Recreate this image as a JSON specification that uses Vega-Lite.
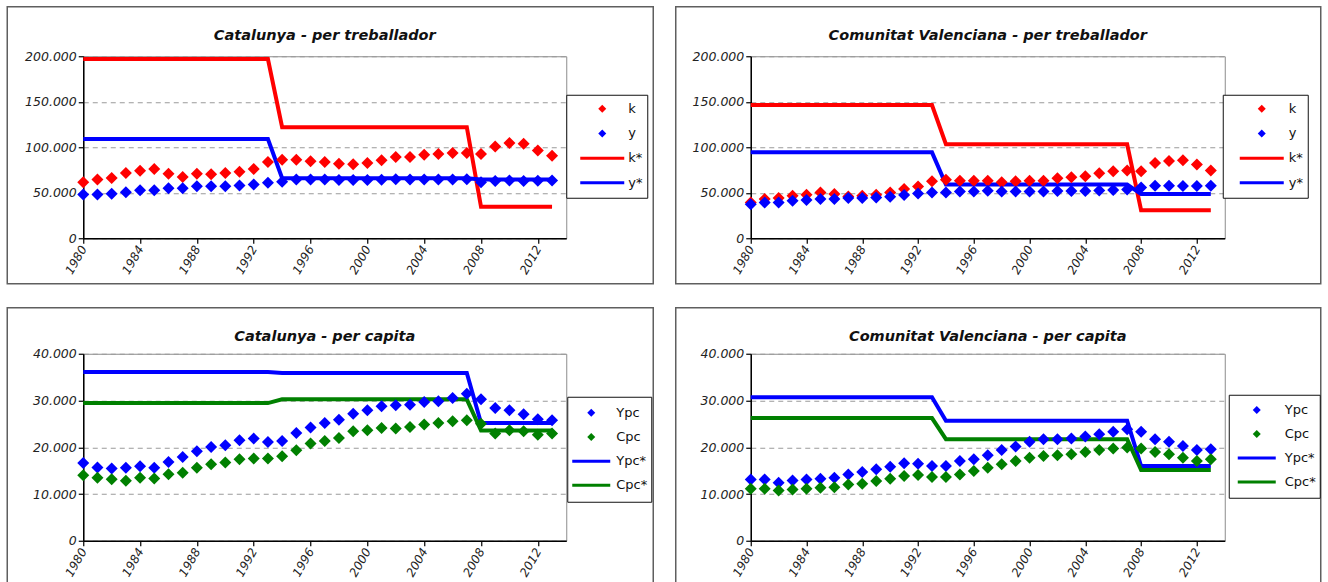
{
  "$schema": "https://vega.github.io/schema/vega-lite/v6.json",
  "background": "#ffffff",
  "padding": {"left": 5.25, "top": 5.25, "right": 0, "bottom": -12},
  "datasets": {
    "cat_treb": [
      {"year": 1980, "k": 61500, "y": 48100, "k*": 197000, "y*": 109000},
      {"year": 1981, "k": 64500, "y": 48100, "k*": 197000, "y*": 109000},
      {"year": 1982, "k": 66300, "y": 48800, "k*": 197000, "y*": 109000},
      {"year": 1983, "k": 71800, "y": 50600, "k*": 197000, "y*": 109000},
      {"year": 1984, "k": 74300, "y": 52800, "k*": 197000, "y*": 109000},
      {"year": 1985, "k": 76200, "y": 52800, "k*": 197000, "y*": 109000},
      {"year": 1986, "k": 71000, "y": 55000, "k*": 197000, "y*": 109000},
      {"year": 1987, "k": 67400, "y": 55000, "k*": 197000, "y*": 109000},
      {"year": 1988, "k": 71000, "y": 57200, "k*": 197000, "y*": 109000},
      {"year": 1989, "k": 70300, "y": 57200, "k*": 197000, "y*": 109000},
      {"year": 1990, "k": 71800, "y": 57200, "k*": 197000, "y*": 109000},
      {"year": 1991, "k": 73200, "y": 57900, "k*": 197000, "y*": 109000},
      {"year": 1992, "k": 76200, "y": 59000, "k*": 197000, "y*": 109000},
      {"year": 1993, "k": 83800, "y": 60900, "k*": 197000, "y*": 109000},
      {"year": 1994, "k": 86300, "y": 62000, "k*": 122000, "y*": 66000},
      {"year": 1995, "k": 86300, "y": 64500, "k*": 122000, "y*": 66000},
      {"year": 1996, "k": 84500, "y": 64500, "k*": 122000, "y*": 66000},
      {"year": 1997, "k": 83800, "y": 64500, "k*": 122000, "y*": 66000},
      {"year": 1998, "k": 82000, "y": 64000, "k*": 122000, "y*": 66000},
      {"year": 1999, "k": 81200, "y": 64000, "k*": 122000, "y*": 66000},
      {"year": 2000, "k": 82700, "y": 64000, "k*": 122000, "y*": 66000},
      {"year": 2001, "k": 85600, "y": 64300, "k*": 122000, "y*": 66000},
      {"year": 2002, "k": 89300, "y": 64800, "k*": 122000, "y*": 66000},
      {"year": 2003, "k": 89300, "y": 64500, "k*": 122000, "y*": 66000},
      {"year": 2004, "k": 91800, "y": 64500, "k*": 122000, "y*": 66000},
      {"year": 2005, "k": 92600, "y": 64500, "k*": 122000, "y*": 66000},
      {"year": 2006, "k": 93700, "y": 64500, "k*": 122000, "y*": 66000},
      {"year": 2007, "k": 93700, "y": 64800, "k*": 122000, "y*": 66000},
      {"year": 2008, "k": 92600, "y": 61500, "k*": 34500, "y*": 64500},
      {"year": 2009, "k": 100900, "y": 63000, "k*": 34500, "y*": 64500},
      {"year": 2010, "k": 104600, "y": 63500, "k*": 34500, "y*": 64500},
      {"year": 2011, "k": 103800, "y": 63000, "k*": 34500, "y*": 64500},
      {"year": 2012, "k": 96500, "y": 63200, "k*": 34500, "y*": 64500},
      {"year": 2013, "k": 90700, "y": 63500, "k*": 34500, "y*": 64500}
    ],
    "val_treb": [
      {"year": 1980, "k": 39200, "y": 37400, "k*": 146300, "y*": 94400},
      {"year": 1981, "k": 43000, "y": 39200, "k*": 146300, "y*": 94400},
      {"year": 1982, "k": 44100, "y": 39200, "k*": 146300, "y*": 94400},
      {"year": 1983, "k": 46700, "y": 41100, "k*": 146300, "y*": 94400},
      {"year": 1984, "k": 47800, "y": 41900, "k*": 146300, "y*": 94400},
      {"year": 1985, "k": 50400, "y": 43000, "k*": 146300, "y*": 94400},
      {"year": 1986, "k": 48500, "y": 43000, "k*": 146300, "y*": 94400},
      {"year": 1987, "k": 45900, "y": 44100, "k*": 146300, "y*": 94400},
      {"year": 1988, "k": 46700, "y": 44100, "k*": 146300, "y*": 94400},
      {"year": 1989, "k": 47800, "y": 44800, "k*": 146300, "y*": 94400},
      {"year": 1990, "k": 50400, "y": 45600, "k*": 146300, "y*": 94400},
      {"year": 1991, "k": 54100, "y": 47400, "k*": 146300, "y*": 94400},
      {"year": 1992, "k": 57000, "y": 49300, "k*": 146300, "y*": 94400},
      {"year": 1993, "k": 62600, "y": 50400, "k*": 146300, "y*": 94400},
      {"year": 1994, "k": 64400, "y": 50400, "k*": 103300, "y*": 59000},
      {"year": 1995, "k": 63300, "y": 51500, "k*": 103300, "y*": 59000},
      {"year": 1996, "k": 63300, "y": 51500, "k*": 103300, "y*": 59000},
      {"year": 1997, "k": 63300, "y": 52200, "k*": 103300, "y*": 59000},
      {"year": 1998, "k": 61500, "y": 51500, "k*": 103300, "y*": 59000},
      {"year": 1999, "k": 62600, "y": 51500, "k*": 103300, "y*": 59000},
      {"year": 2000, "k": 63300, "y": 51500, "k*": 103300, "y*": 59000},
      {"year": 2001, "k": 63300, "y": 51500, "k*": 103300, "y*": 59000},
      {"year": 2002, "k": 65900, "y": 52000, "k*": 103300, "y*": 59000},
      {"year": 2003, "k": 67000, "y": 52000, "k*": 103300, "y*": 59000},
      {"year": 2004, "k": 68100, "y": 52000, "k*": 103300, "y*": 59000},
      {"year": 2005, "k": 71500, "y": 52500, "k*": 103300, "y*": 59000},
      {"year": 2006, "k": 73700, "y": 53000, "k*": 103300, "y*": 59000},
      {"year": 2007, "k": 74400, "y": 53700, "k*": 103300, "y*": 59000},
      {"year": 2008, "k": 73700, "y": 55900, "k*": 30800, "y*": 48500},
      {"year": 2009, "k": 82600, "y": 57800, "k*": 30800, "y*": 48500},
      {"year": 2010, "k": 84800, "y": 57800, "k*": 30800, "y*": 48500},
      {"year": 2011, "k": 85600, "y": 57500, "k*": 30800, "y*": 48500},
      {"year": 2012, "k": 81100, "y": 57500, "k*": 30800, "y*": 48500},
      {"year": 2013, "k": 74400, "y": 57800, "k*": 30800, "y*": 48500}
    ],
    "cat_cap": [
      {"year": 1980, "Ypc": 16650, "Cpc": 14020, "Ypc*": 36100, "Cpc*": 29450},
      {"year": 1981, "Ypc": 15660, "Cpc": 13450, "Ypc*": 36100, "Cpc*": 29450},
      {"year": 1982, "Ypc": 15440, "Cpc": 13170, "Ypc*": 36100, "Cpc*": 29450},
      {"year": 1983, "Ypc": 15590, "Cpc": 12810, "Ypc*": 36100, "Cpc*": 29450},
      {"year": 1984, "Ypc": 15940, "Cpc": 13450, "Ypc*": 36100, "Cpc*": 29450},
      {"year": 1985, "Ypc": 15590, "Cpc": 13310, "Ypc*": 36100, "Cpc*": 29450},
      {"year": 1986, "Ypc": 16870, "Cpc": 14230, "Ypc*": 36100, "Cpc*": 29450},
      {"year": 1987, "Ypc": 17940, "Cpc": 14520, "Ypc*": 36100, "Cpc*": 29450},
      {"year": 1988, "Ypc": 19150, "Cpc": 15590, "Ypc*": 36100, "Cpc*": 29450},
      {"year": 1989, "Ypc": 20070, "Cpc": 16370, "Ypc*": 36100, "Cpc*": 29450},
      {"year": 1990, "Ypc": 20430, "Cpc": 16730, "Ypc*": 36100, "Cpc*": 29450},
      {"year": 1991, "Ypc": 21490, "Cpc": 17440, "Ypc*": 36100, "Cpc*": 29450},
      {"year": 1992, "Ypc": 21850, "Cpc": 17580, "Ypc*": 36100, "Cpc*": 29450},
      {"year": 1993, "Ypc": 21140, "Cpc": 17580, "Ypc*": 36100, "Cpc*": 29450},
      {"year": 1994, "Ypc": 21350, "Cpc": 18080, "Ypc*": 35900, "Cpc*": 30250},
      {"year": 1995, "Ypc": 23060, "Cpc": 19360, "Ypc*": 35900, "Cpc*": 30250},
      {"year": 1996, "Ypc": 24200, "Cpc": 20780, "Ypc*": 35900, "Cpc*": 30250},
      {"year": 1997, "Ypc": 25200, "Cpc": 21350, "Ypc*": 35900, "Cpc*": 30250},
      {"year": 1998, "Ypc": 25900, "Cpc": 21990, "Ypc*": 35900, "Cpc*": 30250},
      {"year": 1999, "Ypc": 27190, "Cpc": 23420, "Ypc*": 35900, "Cpc*": 30250},
      {"year": 2000, "Ypc": 27900, "Cpc": 23630, "Ypc*": 35900, "Cpc*": 30250},
      {"year": 2001, "Ypc": 28750, "Cpc": 24130, "Ypc*": 35900, "Cpc*": 30250},
      {"year": 2002, "Ypc": 28970, "Cpc": 23990, "Ypc*": 35900, "Cpc*": 30250},
      {"year": 2003, "Ypc": 29110, "Cpc": 24340, "Ypc*": 35900, "Cpc*": 30250},
      {"year": 2004, "Ypc": 29680, "Cpc": 24840, "Ypc*": 35900, "Cpc*": 30250},
      {"year": 2005, "Ypc": 29820, "Cpc": 25200, "Ypc*": 35900, "Cpc*": 30250},
      {"year": 2006, "Ypc": 30530, "Cpc": 25550, "Ypc*": 35900, "Cpc*": 30250},
      {"year": 2007, "Ypc": 31460, "Cpc": 25770, "Ypc*": 35900, "Cpc*": 30250},
      {"year": 2008, "Ypc": 30250, "Cpc": 25050, "Ypc*": 25200, "Cpc*": 23560},
      {"year": 2009, "Ypc": 28400, "Cpc": 22920, "Ypc*": 25200, "Cpc*": 23560},
      {"year": 2010, "Ypc": 27900, "Cpc": 23630, "Ypc*": 25200, "Cpc*": 23560},
      {"year": 2011, "Ypc": 27050, "Cpc": 23420, "Ypc*": 25200, "Cpc*": 23560},
      {"year": 2012, "Ypc": 25980, "Cpc": 22700, "Ypc*": 25200, "Cpc*": 23560},
      {"year": 2013, "Ypc": 25770, "Cpc": 22920, "Ypc*": 25200, "Cpc*": 23560}
    ],
    "val_cap": [
      {"year": 1980, "Ypc": 13120, "Cpc": 11110, "Ypc*": 30680, "Cpc*": 26240},
      {"year": 1981, "Ypc": 13120, "Cpc": 11110, "Ypc*": 30680, "Cpc*": 26240},
      {"year": 1982, "Ypc": 12400, "Cpc": 10750, "Ypc*": 30680, "Cpc*": 26240},
      {"year": 1983, "Ypc": 12900, "Cpc": 10970, "Ypc*": 30680, "Cpc*": 26240},
      {"year": 1984, "Ypc": 13120, "Cpc": 11110, "Ypc*": 30680, "Cpc*": 26240},
      {"year": 1985, "Ypc": 13260, "Cpc": 11330, "Ypc*": 30680, "Cpc*": 26240},
      {"year": 1986, "Ypc": 13480, "Cpc": 11470, "Ypc*": 30680, "Cpc*": 26240},
      {"year": 1987, "Ypc": 14190, "Cpc": 12040, "Ypc*": 30680, "Cpc*": 26240},
      {"year": 1988, "Ypc": 14700, "Cpc": 12190, "Ypc*": 30680, "Cpc*": 26240},
      {"year": 1989, "Ypc": 15270, "Cpc": 12760, "Ypc*": 30680, "Cpc*": 26240},
      {"year": 1990, "Ypc": 15840, "Cpc": 13260, "Ypc*": 30680, "Cpc*": 26240},
      {"year": 1991, "Ypc": 16560, "Cpc": 13840, "Ypc*": 30680, "Cpc*": 26240},
      {"year": 1992, "Ypc": 16490, "Cpc": 14050, "Ypc*": 30680, "Cpc*": 26240},
      {"year": 1993, "Ypc": 15990, "Cpc": 13620, "Ypc*": 30680, "Cpc*": 26240},
      {"year": 1994, "Ypc": 15990, "Cpc": 13620, "Ypc*": 25660, "Cpc*": 21720},
      {"year": 1995, "Ypc": 17060, "Cpc": 14190, "Ypc*": 25660, "Cpc*": 21720},
      {"year": 1996, "Ypc": 17420, "Cpc": 14910, "Ypc*": 25660, "Cpc*": 21720},
      {"year": 1997, "Ypc": 18280, "Cpc": 15630, "Ypc*": 25660, "Cpc*": 21720},
      {"year": 1998, "Ypc": 19430, "Cpc": 16340, "Ypc*": 25660, "Cpc*": 21720},
      {"year": 1999, "Ypc": 20140, "Cpc": 17060, "Ypc*": 25660, "Cpc*": 21720},
      {"year": 2000, "Ypc": 21150, "Cpc": 17780, "Ypc*": 25660, "Cpc*": 21720},
      {"year": 2001, "Ypc": 21720, "Cpc": 18140, "Ypc*": 25660, "Cpc*": 21720},
      {"year": 2002, "Ypc": 21720, "Cpc": 18280, "Ypc*": 25660, "Cpc*": 21720},
      {"year": 2003, "Ypc": 21860, "Cpc": 18490, "Ypc*": 25660, "Cpc*": 21720},
      {"year": 2004, "Ypc": 22290, "Cpc": 19000, "Ypc*": 25660, "Cpc*": 21720},
      {"year": 2005, "Ypc": 22800, "Cpc": 19430, "Ypc*": 25660, "Cpc*": 21720},
      {"year": 2006, "Ypc": 23300, "Cpc": 19710, "Ypc*": 25660, "Cpc*": 21720},
      {"year": 2007, "Ypc": 23870, "Cpc": 19930, "Ypc*": 25660, "Cpc*": 21720},
      {"year": 2008, "Ypc": 23300, "Cpc": 19710, "Ypc*": 15990, "Cpc*": 15130},
      {"year": 2009, "Ypc": 21720, "Cpc": 19000, "Ypc*": 15990, "Cpc*": 15130},
      {"year": 2010, "Ypc": 21150, "Cpc": 18490, "Ypc*": 15990, "Cpc*": 15130},
      {"year": 2011, "Ypc": 20290, "Cpc": 17780, "Ypc*": 15990, "Cpc*": 15130},
      {"year": 2012, "Ypc": 19430, "Cpc": 17060, "Ypc*": 15990, "Cpc*": 15130},
      {"year": 2013, "Ypc": 19570, "Cpc": 17420, "Ypc*": 15990, "Cpc*": 15130}
    ]
  },
  "config": {
    "font": "DejaVu Sans",
    "view": {"stroke": "#8c8c8c", "strokeWidth": 1},
    "axis": {
      "labelFont": "DejaVu Sans",
      "labelFontStyle": "italic",
      "labelColor": "#222222",
      "domainColor": "#000000",
      "domainWidth": 1.5,
      "tickColor": "#000000",
      "tickWidth": 1.2,
      "tickSize": 5
    },
    "axisX": {"labelFontSize": 12, "labelAngle": -60, "labelOverlap": false, "labelFlush": false, "labelPadding": 3, "grid": false},
    "axisY": {"labelFontSize": 12.5, "labelPadding": 2, "grid": true, "gridColor": "#9a9a9a", "gridDash": [5, 4], "gridWidth": 1},
    "legend": {"labelFont": "DejaVu Sans", "labelFontSize": 13, "labelColor": "#111111", "strokeColor": "#111111", "fillColor": "#ffffff"},
    "title": {"font": "DejaVu Sans", "fontSize": 14.5, "fontWeight": "bold", "fontStyle": "italic", "color": "#111111", "anchor": "middle", "frame": "group", "baseline": "alphabetic"}
  },
  "columns": 2,
  "align": "each",
  "spacing": {"row": 20.5, "column": 18.5},
  "resolve": {"scale": {"color": "independent", "shape": "independent"}},
  "concat": [
    {
      "width": 483,
      "height": 182,
      "title": {"text": "Catalunya  -  per treballador", "offset": -37.25},
      "layer": [
        {
          "data": {"values": [{}]},
          "mark": {"type": "rect", "fill": "transparent", "stroke": "#5f5f5f", "strokeWidth": 1.5},
          "encoding": {
            "x": {"datum": 1974.65, "type": "quantitative"},
            "x2": {"datum": 2020.124},
            "y": {"datum": 254396, "type": "quantitative"},
            "y2": {"datum": -50000}
          }
        },
        {
          "data": {"name": "cat_treb"},
          "mark": {"type": "line", "strokeWidth": 4, "color": "#ff0000"},
          "encoding": {
            "x": {"field": "year", "type": "quantitative", "scale": {"domain": [1980, 2014], "nice": false, "zero": false},
                  "axis": {"title": null, "values": [1980,1981,1982,1983,1984,1985,1986,1987,1988,1989,1990,1991,1992,1993,1994,1995,1996,1997,1998,1999,2000,2001,2002,2003,2004,2005,2006,2007,2008,2009,2010,2011,2012,2013,2014], "labelExpr": "datum.value % 4 == 0 && datum.value < 2014 ? datum.value : ''"}},
            "y": {"field": "k*", "type": "quantitative", "scale": {"domain": [0, 200000], "nice": false},
                  "axis": {"title": null, "values": [0, 50000, 100000, 150000, 200000], "labelExpr": "replace(format(datum.value, ','), ',', '.')"}}
          }
        },
        {
          "data": {"name": "cat_treb"},
          "mark": {"type": "line", "strokeWidth": 4, "color": "#0000ff"},
          "encoding": {
            "x": {"field": "year", "type": "quantitative"},
            "y": {"field": "y*", "type": "quantitative"}
          }
        },
        {
          "data": {"name": "cat_treb"},
          "transform": [{"fold": ["k", "y"], "as": ["series", "value"]}],
          "mark": {"type": "point", "filled": true, "opacity": 1, "size": 4350, "strokeWidth": 0},
          "encoding": {
            "x": {"field": "year", "type": "quantitative"},
            "y": {"field": "value", "type": "quantitative"},
            "color": {"field": "series", "type": "nominal", "scale": {"domain": ["k", "y", "k*", "y*"], "range": ["#ff0000", "#0000ff", "#ff0000", "#0000ff"]},
                      "legend": {"title": null, "orient": "none", "legendX": 483, "legendY": 38.5, "symbolSize": 1936, "padding": 4, "clipHeight": 20, "rowPadding": 4.7, "symbolOffset": 9, "labelOffset": 3,
                                 "encode": {"symbols": {"update": {"stroke": {"value": "transparent"}, "strokeWidth": {"value": 0}, "size": {"value": 1936}, "opacity": {"value": 1}}}, "legend": {"update": {"strokeWidth": {"value": 1.5}}}}}},
            "shape": {"field": "series", "type": "nominal", "scale": {"domain": ["k", "y", "k*", "y*"], "range": ["M0,-0.182L0.182,0L0,0.182L-0.182,0Z", "M0,-0.182L0.182,0L0,0.182L-0.182,0Z", "M-1,-0.068L1,-0.068L1,0.068L-1,0.068Z", "M-1,-0.068L1,-0.068L1,0.068L-1,0.068Z"]},
                      "legend": {"title": null, "orient": "none", "legendX": 483, "legendY": 38.5, "symbolSize": 1936, "padding": 4, "clipHeight": 20, "rowPadding": 4.7, "symbolOffset": 9, "labelOffset": 3,
                                 "encode": {"symbols": {"update": {"stroke": {"value": "transparent"}, "strokeWidth": {"value": 0}, "size": {"value": 1936}, "opacity": {"value": 1}}}, "legend": {"update": {"strokeWidth": {"value": 1.5}}}}}}
          }
        }
      ]
    },
    {
      "width": 474,
      "height": 182,
      "title": {"text": "Comunitat Valenciana  -  per treballador", "offset": -37.75},
      "layer": [
        {
          "data": {"values": [{}]},
          "mark": {"type": "rect", "fill": "transparent", "stroke": "#5f5f5f", "strokeWidth": 1.5},
          "encoding": {
            "x": {"datum": 1974.62, "type": "quantitative"},
            "x2": {"datum": 2020.886},
            "y": {"datum": 254396, "type": "quantitative"},
            "y2": {"datum": -50000}
          }
        },
        {
          "data": {"name": "val_treb"},
          "mark": {"type": "line", "strokeWidth": 4, "color": "#ff0000"},
          "encoding": {
            "x": {"field": "year", "type": "quantitative", "scale": {"domain": [1980, 2014], "nice": false, "zero": false},
                  "axis": {"title": null, "values": [1980,1981,1982,1983,1984,1985,1986,1987,1988,1989,1990,1991,1992,1993,1994,1995,1996,1997,1998,1999,2000,2001,2002,2003,2004,2005,2006,2007,2008,2009,2010,2011,2012,2013,2014], "labelExpr": "datum.value % 4 == 0 && datum.value < 2014 ? datum.value : ''"}},
            "y": {"field": "k*", "type": "quantitative", "scale": {"domain": [0, 200000], "nice": false},
                  "axis": {"title": null, "values": [0, 50000, 100000, 150000, 200000], "labelExpr": "replace(format(datum.value, ','), ',', '.')"}}
          }
        },
        {
          "data": {"name": "val_treb"},
          "mark": {"type": "line", "strokeWidth": 4, "color": "#0000ff"},
          "encoding": {
            "x": {"field": "year", "type": "quantitative"},
            "y": {"field": "y*", "type": "quantitative"}
          }
        },
        {
          "data": {"name": "val_treb"},
          "transform": [{"fold": ["k", "y"], "as": ["series", "value"]}],
          "mark": {"type": "point", "filled": true, "opacity": 1, "size": 4350, "strokeWidth": 0},
          "encoding": {
            "x": {"field": "year", "type": "quantitative"},
            "y": {"field": "value", "type": "quantitative"},
            "color": {"field": "series", "type": "nominal", "scale": {"domain": ["k", "y", "k*", "y*"], "range": ["#ff0000", "#0000ff", "#ff0000", "#0000ff"]},
                      "legend": {"title": null, "orient": "none", "legendX": 472, "legendY": 38.5, "symbolSize": 1936, "padding": 4, "clipHeight": 20, "rowPadding": 4.7, "symbolOffset": 12, "labelOffset": 4,
                                 "encode": {"symbols": {"update": {"stroke": {"value": "transparent"}, "strokeWidth": {"value": 0}, "size": {"value": 1936}, "opacity": {"value": 1}}}, "legend": {"update": {"strokeWidth": {"value": 1.5}}}}}},
            "shape": {"field": "series", "type": "nominal", "scale": {"domain": ["k", "y", "k*", "y*"], "range": ["M0,-0.182L0.182,0L0,0.182L-0.182,0Z", "M0,-0.182L0.182,0L0,0.182L-0.182,0Z", "M-1,-0.068L1,-0.068L1,0.068L-1,0.068Z", "M-1,-0.068L1,-0.068L1,0.068L-1,0.068Z"]},
                      "legend": {"title": null, "orient": "none", "legendX": 472, "legendY": 38.5, "symbolSize": 1936, "padding": 4, "clipHeight": 20, "rowPadding": 4.7, "symbolOffset": 12, "labelOffset": 4,
                                 "encode": {"symbols": {"update": {"stroke": {"value": "transparent"}, "strokeWidth": {"value": 0}, "size": {"value": 1936}, "opacity": {"value": 1}}}, "legend": {"update": {"strokeWidth": {"value": 1.5}}}}}}
          }
        }
      ]
    },
    {
      "width": 483,
      "height": 187,
      "title": {"text": "Catalunya  -  per capita", "offset": -37.75},
      "layer": [
        {
          "data": {"values": [{}]},
          "mark": {"type": "rect", "fill": "transparent", "stroke": "#5f5f5f", "strokeWidth": 1.5},
          "encoding": {
            "x": {"datum": 1974.65, "type": "quantitative"},
            "x2": {"datum": 2020.124},
            "y": {"datum": 49840, "type": "quantitative"},
            "y2": {"datum": -11123}
          }
        },
        {
          "data": {"name": "cat_cap"},
          "mark": {"type": "line", "strokeWidth": 4, "color": "#0000ff"},
          "encoding": {
            "x": {"field": "year", "type": "quantitative", "scale": {"domain": [1980, 2014], "nice": false, "zero": false},
                  "axis": {"title": null, "values": [1980,1981,1982,1983,1984,1985,1986,1987,1988,1989,1990,1991,1992,1993,1994,1995,1996,1997,1998,1999,2000,2001,2002,2003,2004,2005,2006,2007,2008,2009,2010,2011,2012,2013,2014], "labelExpr": "datum.value % 4 == 0 && datum.value < 2014 ? datum.value : ''"}},
            "y": {"field": "Ypc*", "type": "quantitative", "scale": {"domain": [0, 40000], "nice": false},
                  "axis": {"title": null, "values": [0, 10000, 20000, 30000, 40000], "labelExpr": "replace(format(datum.value, ','), ',', '.')"}}
          }
        },
        {
          "data": {"name": "cat_cap"},
          "mark": {"type": "line", "strokeWidth": 4, "color": "#008000"},
          "encoding": {
            "x": {"field": "year", "type": "quantitative"},
            "y": {"field": "Cpc*", "type": "quantitative"}
          }
        },
        {
          "data": {"name": "cat_cap"},
          "transform": [{"fold": ["Ypc", "Cpc"], "as": ["series", "value"]}],
          "mark": {"type": "point", "filled": true, "opacity": 1, "size": 3265, "strokeWidth": 0},
          "encoding": {
            "x": {"field": "year", "type": "quantitative"},
            "y": {"field": "value", "type": "quantitative"},
            "color": {"field": "series", "type": "nominal", "scale": {"domain": ["Ypc", "Cpc", "Ypc*", "Cpc*"], "range": ["#0000ff", "#008000", "#0000ff", "#008000"]},
                      "legend": {"title": null, "orient": "none", "legendX": 484, "legendY": 43, "symbolSize": 1444, "padding": 4, "clipHeight": 24, "rowPadding": 0.2, "symbolOffset": 0, "labelOffset": 5,
                                 "encode": {"symbols": {"update": {"stroke": {"value": "transparent"}, "strokeWidth": {"value": 0}, "size": {"value": 1444}, "opacity": {"value": 1}}}, "legend": {"update": {"strokeWidth": {"value": 1.5}}}}}},
            "shape": {"field": "series", "type": "nominal", "scale": {"domain": ["Ypc", "Cpc", "Ypc*", "Cpc*"], "range": ["M0,-0.21L0.21,0L0,0.21L-0.21,0Z", "M0,-0.21L0.21,0L0,0.21L-0.21,0Z", "M-1,-0.079L1,-0.079L1,0.079L-1,0.079Z", "M-1,-0.079L1,-0.079L1,0.079L-1,0.079Z"]},
                      "legend": {"title": null, "orient": "none", "legendX": 484, "legendY": 43, "symbolSize": 1444, "padding": 4, "clipHeight": 24, "rowPadding": 0.2, "symbolOffset": 0, "labelOffset": 5,
                                 "encode": {"symbols": {"update": {"stroke": {"value": "transparent"}, "strokeWidth": {"value": 0}, "size": {"value": 1444}, "opacity": {"value": 1}}}, "legend": {"update": {"strokeWidth": {"value": 1.5}}}}}}
          }
        }
      ]
    },
    {
      "width": 474,
      "height": 187,
      "title": {"text": "Comunitat Valenciana  -  per capita", "offset": -37.75},
      "layer": [
        {
          "data": {"values": [{}]},
          "mark": {"type": "rect", "fill": "transparent", "stroke": "#5f5f5f", "strokeWidth": 1.5},
          "encoding": {
            "x": {"datum": 1974.62, "type": "quantitative"},
            "x2": {"datum": 2020.886},
            "y": {"datum": 49840, "type": "quantitative"},
            "y2": {"datum": -11123}
          }
        },
        {
          "data": {"name": "val_cap"},
          "mark": {"type": "line", "strokeWidth": 4, "color": "#0000ff"},
          "encoding": {
            "x": {"field": "year", "type": "quantitative", "scale": {"domain": [1980, 2014], "nice": false, "zero": false},
                  "axis": {"title": null, "values": [1980,1981,1982,1983,1984,1985,1986,1987,1988,1989,1990,1991,1992,1993,1994,1995,1996,1997,1998,1999,2000,2001,2002,2003,2004,2005,2006,2007,2008,2009,2010,2011,2012,2013,2014], "labelExpr": "datum.value % 4 == 0 && datum.value < 2014 ? datum.value : ''"}},
            "y": {"field": "Ypc*", "type": "quantitative", "scale": {"domain": [0, 40000], "nice": false},
                  "axis": {"title": null, "values": [0, 10000, 20000, 30000, 40000], "labelExpr": "replace(format(datum.value, ','), ',', '.')"}}
          }
        },
        {
          "data": {"name": "val_cap"},
          "mark": {"type": "line", "strokeWidth": 4, "color": "#008000"},
          "encoding": {
            "x": {"field": "year", "type": "quantitative"},
            "y": {"field": "Cpc*", "type": "quantitative"}
          }
        },
        {
          "data": {"name": "val_cap"},
          "transform": [{"fold": ["Ypc", "Cpc"], "as": ["series", "value"]}],
          "mark": {"type": "point", "filled": true, "opacity": 1, "size": 3265, "strokeWidth": 0},
          "encoding": {
            "x": {"field": "year", "type": "quantitative"},
            "y": {"field": "value", "type": "quantitative"},
            "color": {"field": "series", "type": "nominal", "scale": {"domain": ["Ypc", "Cpc", "Ypc*", "Cpc*"], "range": ["#0000ff", "#008000", "#0000ff", "#008000"]},
                      "legend": {"title": null, "orient": "none", "legendX": 478, "legendY": 41, "symbolSize": 1444, "padding": 4, "clipHeight": 22.6, "rowPadding": 1, "symbolOffset": 4, "labelOffset": 8,
                                 "encode": {"symbols": {"update": {"stroke": {"value": "transparent"}, "strokeWidth": {"value": 0}, "size": {"value": 1444}, "opacity": {"value": 1}}}, "legend": {"update": {"strokeWidth": {"value": 1.5}}}}}},
            "shape": {"field": "series", "type": "nominal", "scale": {"domain": ["Ypc", "Cpc", "Ypc*", "Cpc*"], "range": ["M0,-0.21L0.21,0L0,0.21L-0.21,0Z", "M0,-0.21L0.21,0L0,0.21L-0.21,0Z", "M-1,-0.079L1,-0.079L1,0.079L-1,0.079Z", "M-1,-0.079L1,-0.079L1,0.079L-1,0.079Z"]},
                      "legend": {"title": null, "orient": "none", "legendX": 478, "legendY": 41, "symbolSize": 1444, "padding": 4, "clipHeight": 22.6, "rowPadding": 1, "symbolOffset": 4, "labelOffset": 8,
                                 "encode": {"symbols": {"update": {"stroke": {"value": "transparent"}, "strokeWidth": {"value": 0}, "size": {"value": 1444}, "opacity": {"value": 1}}}, "legend": {"update": {"strokeWidth": {"value": 1.5}}}}}}
          }
        }
      ]
    }
  ]
}
